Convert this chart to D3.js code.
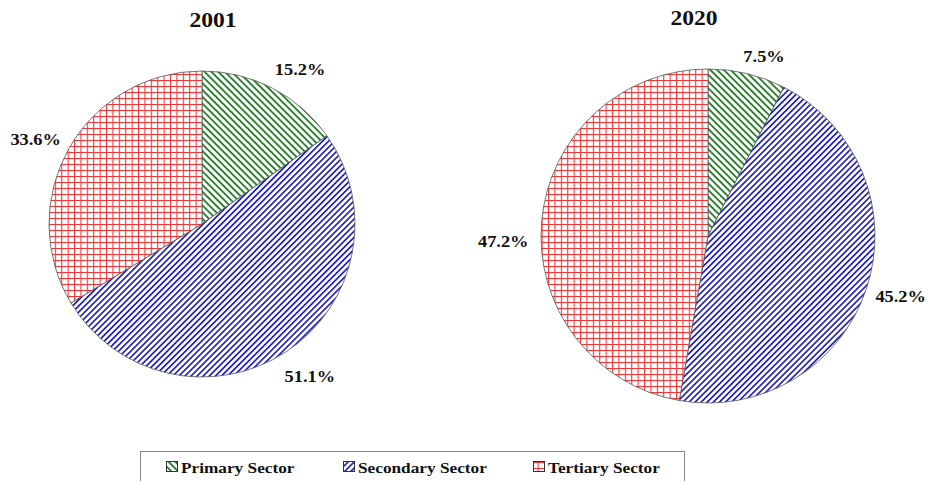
<!DOCTYPE html>
<html><head><meta charset="utf-8">
<script src="https://cdn.jsdelivr.net/npm/d3@7"></script>
<style>body{margin:0;background:#fff}svg{display:block}
text{font-family:"Liberation Serif","Times New Roman",Times,serif;font-weight:bold;fill:#111}</style>
</head><body>
<svg id="c" width="931" height="481"></svg>
<script>
const sectors = ["Primary Sector", "Secondary Sector", "Tertiary Sector"];
const years = ["2001", "2020"];
const values2001 = [15.2, 51.1, 33.6];
const values2020 = [7.5, 45.2, 47.2];
const seriesValues = [values2001, values2020];

const svg = d3.select("#c");
const defs = svg.append("defs");
const SX = 1.15; // horizontal stretch of reference text

function stripes(id, color, angle, gap, w) {
  const p = defs.append("pattern").attr("id", id).attr("patternUnits", "userSpaceOnUse")
    .attr("width", gap).attr("height", gap).attr("patternTransform", `rotate(${angle})`);
  p.append("rect").attr("width", gap).attr("height", gap).attr("fill", "#fff");
  p.append("rect").attr("x", 0).attr("y", 0).attr("width", gap).attr("height", w).attr("fill", color);
}
stripes("pPrim", "#1f7a24", 45, 4.8, 1.8);
stripes("pSec", "#2323b8", -45, 4.3, 1.7);
function grid(id, color, gx, gy) {
  const p = defs.append("pattern").attr("id", id).attr("patternUnits", "userSpaceOnUse")
    .attr("width", gx).attr("height", gy);
  p.append("rect").attr("width", gx).attr("height", gy).attr("fill", "#fff");
  p.append("rect").attr("x", 0).attr("y", 0).attr("width", 1.1).attr("height", gy).attr("fill", color);
  p.append("rect").attr("x", 0).attr("y", 0).attr("width", gx).attr("height", 1.1).attr("fill", color);
}
grid("pTer", "#e83a3a", 6.4, 6.0);
const fills = d3.scaleOrdinal().domain(sectors).range(["url(#pPrim)", "url(#pSec)", "url(#pTer)"]);

const layouts = [
  {cx: 202, cy: 224, r: 153, tx: 213, ty: 27, nudge: [[14, 8], [7, -2], [-2, 8]]},
  {cx: 708, cy: 236, r: 167, tx: 694, ty: 25, nudge: [[11, 8], [0, -4], [-3, 23]]}
];

const pie = d3.pie().sort(null).value(d => d.v);

function stretchedText(parent, x, y, str, size, anchor) {
  return parent.append("text").attr("transform", `translate(${x},${y}) scale(${SX},1)`)
    .attr("text-anchor", anchor).attr("font-size", size).text(str);
}

seriesValues.forEach((vals, i) => {
  const L = layouts[i];
  const data = sectors.map((s, k) => ({s, v: vals[k]}));
  const arcs = pie(data);
  const arc = d3.arc().innerRadius(0).outerRadius(L.r);
  const g = svg.append("g").attr("transform", `translate(${L.cx},${L.cy})`);
  g.selectAll("path").data(arcs).join("path")
    .attr("d", arc).attr("fill", d => fills(d.data.s))
    .attr("stroke", "#555").attr("stroke-width", 0.8);

  stretchedText(svg, L.tx, L.ty, years[i], 20.5, "middle");

  arcs.forEach((d, k) => {
    const a = (d.startAngle + d.endAngle) / 2;
    const sa = Math.sin(a), ca = Math.cos(a);
    const w = 42, h = 14, gap = 14;
    const ext = w / 2 * Math.abs(sa) + h / 2 * Math.abs(ca);
    const dist = L.r + gap + ext;
    const x = dist * sa + L.nudge[k][0], y = -dist * ca + L.nudge[k][1] + 5.5;
    stretchedText(g, x, y, d.data.v.toFixed(1) + "%", 16, "middle");
  });
});

// legend
const lg = svg.append("g");
lg.append("rect").attr("x", 140.5).attr("y", 451.5).attr("width", 544).attr("height", 40)
  .attr("fill", "#fff").attr("stroke", "#888").attr("stroke-width", 1);
const legX = d3.scaleOrdinal().domain(sectors).range([166, 343, 533]);
sectors.forEach(s => {
  const x = legX(s);
  lg.append("rect").attr("x", x + 0.5).attr("y", 461.5).attr("width", 11).attr("height", 10)
    .attr("fill", fills(s)).attr("stroke", "#333").attr("stroke-width", 1);
  stretchedText(lg, x + 15, 472.5, s, 15, "start");
});
</script>
</body></html>
